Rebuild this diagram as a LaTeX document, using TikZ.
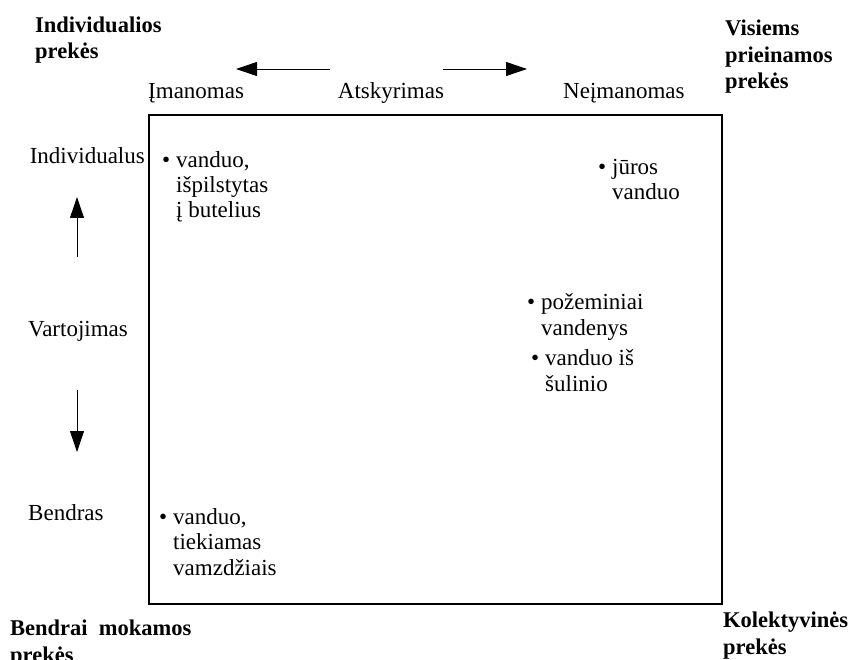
\documentclass[tikz,border=0pt]{standalone}
\usepackage{fontspec}
\setmainfont{Liberation Serif}
\usetikzlibrary{arrows.meta}
\begin{document}
\begin{tikzpicture}[x=1pt,y=-1pt,
  lbl/.style={inner sep=0pt,anchor=base west,align=left,font=\fontsize{23}{25.3}\selectfont},
  bold/.style={inner sep=0pt,anchor=base west,align=left,font=\fontsize{22.5}{26.5}\selectfont\bfseries},
  arr/.style={line width=0.9pt,-{Triangle[length=21pt,width=14pt]}},
  frame/.style={line width=2pt}]
\useasboundingbox (0,0) rectangle (848,660);
% frame
\coordinate (tl) at (149,115);
\coordinate (br) at (722,604);
\draw[frame] (tl) rectangle (br);
% corner labels (anchor = baseline of last line)
\node[bold] (ip) at (35,59) {Individualios\\prekės};
\node[bold] (vp) at (725,89) {Visiems\\prieinamos\\prekės};
\node[bold] (bm) at (10,662) {Bendrai\ \ mokamos\\prekės};
\node[bold] (kp) at (723,654) {Kolektyvinės\\prekės};
% top axis
\node[lbl] (im) at (148,99) {Įmanomas};
\node[lbl,anchor=base] (at) at (391,99) {Atskyrimas};
\node[lbl] (ne) at (563,99) {Neįmanomas};
\coordinate (la) at (330,69);
\coordinate (lt) at (236,69);
\coordinate (ra) at (443,69);
\coordinate (rt) at (527,69);
\draw[arr] (la) -- (lt);
\draw[arr] (ra) -- (rt);
% left axis
\node[lbl,anchor=base east] (in) at (145,164) {Individualus};
\node[lbl] (va) at (28,336) {Vartojimas};
\node[lbl] (be) at (28,520) {Bendras};
\coordinate (ua) at (77,257);
\coordinate (ut) at (77,197);
\coordinate (da) at (77,390);
\coordinate (dt) at (77,452);
\draw[arr] (ua) -- (ut);
\draw[arr] (da) -- (dt);
% items (anchor = baseline of last line)
\node[lbl] (b1) at (176,218) {\llap{\textbullet\hspace{6pt}}vanduo,\\išpilstytas\\į butelius};
\node[lbl] (b2) at (612,200) {\llap{\textbullet\hspace{6pt}}jūros\\vanduo};
\node[lbl] (b3) at (541,335) {\llap{\textbullet\hspace{6pt}}požeminiai\\vandenys};
\node[lbl] (b4) at (545,391) {\llap{\textbullet\hspace{6pt}}vanduo iš\\šulinio};
\node[lbl] (b5) at (173,575) {\llap{\textbullet\hspace{6pt}}vanduo,\\tiekiamas\\vamzdžiais};
\end{tikzpicture}
\end{document}
